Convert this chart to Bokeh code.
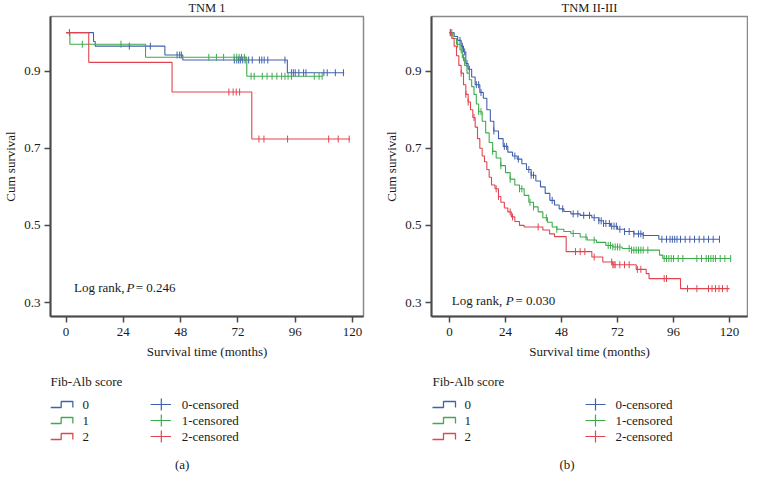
import numpy as np
from bokeh.plotting import figure
from bokeh.layouts import row, column
from bokeh.models import Range1d, FixedTicker, Label
from bokeh.embed import file_html
from bokeh.resources import INLINE
from bokeh.core.properties import value

FONT = "Liberation Serif"
TXT = "#1a1a1a"
BLUE, GREEN, RED = "#4160ae", "#3eab4c", "#e2454f"
COLORS = [BLUE, GREEN, RED]

# ---------------- data ----------------
x_ticks = [0, 24, 48, 72, 96, 120]
y_ticks = [0.3, 0.5, 0.7, 0.9]
groups = ["0", "1", "2"]

# Panel (a) TNM I : step times (months) and cumulative survival
a0_t = [0, 11.5, 12.2, 41.4, 48.9, 92.7, 116.5]
a0_s = [1.0, 0.977, 0.965, 0.942, 0.929, 0.896, 0.896]
a1_t = [0, 1.6, 33.3, 75.7, 107.3]
a1_s = [1.0, 0.970, 0.936, 0.887, 0.887]
a2_t = [0, 9.5, 44.4, 77.8, 118.9]
a2_s = [1.0, 0.923, 0.846, 0.724, 0.724]
a0_c = [1.4, 26.5, 35.3, 46.5, 47.6, 48.3, 70.5, 71.5, 72.3, 73, 74, 75, 76.5, 78,
        81, 82, 83, 84.5, 91.7, 94.4, 95.2, 96, 97.5, 99.5, 100.5, 108, 109.4, 112.8, 116.2]
a1_c = [6.8, 23, 59.8, 63, 66, 70.4, 71.5, 72.5, 73.5, 74.7, 77.5, 78.8, 82.2, 84.2,
        86.3, 88.3, 90.3, 91.7, 93, 94.4, 104, 106, 107.3]
a2_c = [68.2, 70, 71.3, 72.7, 80.8, 82.9, 92.8, 110, 114, 118.6]

# Panel (b) TNM II-III
b0_t = [0, 2, 3.5, 5, 6, 7, 8, 9.5, 11, 13, 14.5, 16, 17.5, 19, 21, 23, 25, 27, 29, 31,
        33, 35, 37, 39, 41, 43, 45, 47, 49, 52, 56, 61, 64, 66, 69, 72, 75, 79, 83, 89.7, 115.7]
b0_s = [1.0, 0.99, 0.98, 0.965, 0.95, 0.92, 0.905, 0.885, 0.865, 0.845, 0.83, 0.80, 0.77,
        0.745, 0.725, 0.705, 0.69, 0.68, 0.672, 0.66, 0.645, 0.63, 0.615, 0.60, 0.583,
        0.565, 0.553, 0.543, 0.536, 0.530, 0.526, 0.520, 0.512, 0.505, 0.498, 0.490,
        0.484, 0.478, 0.474, 0.464, 0.464]
b1_t = [0, 1.5, 3, 4.5, 5.5, 6.5, 7.5, 8.5, 9.5, 10.5, 11.5, 12.5, 14, 15.5, 17, 18.5, 20,
        22, 24, 26, 28, 30, 32, 34, 36, 38, 40, 42, 44, 46, 49, 52, 56, 59, 63, 67, 70,
        74, 78, 90, 91.4, 120.5]
b1_s = [1.0, 0.985, 0.97, 0.955, 0.935, 0.915, 0.895, 0.878, 0.86, 0.84, 0.815, 0.795,
        0.77, 0.74, 0.715, 0.692, 0.675, 0.655, 0.637, 0.62, 0.605, 0.595, 0.578, 0.56,
        0.548, 0.535, 0.52, 0.508, 0.496, 0.49, 0.484, 0.479, 0.47, 0.462, 0.456, 0.448,
        0.444, 0.440, 0.436, 0.423, 0.414, 0.414]
b2_t = [0, 1, 2, 3, 4, 5, 6, 7, 8, 9, 10, 11, 12, 13, 14, 15, 16, 17, 18, 19.5, 21, 22,
        23.5, 25, 26.5, 28, 30, 32, 40, 42.9, 45, 50, 61, 65.7, 70, 80, 84.3, 85.5, 99,
        120]
b2_s = [1.0, 0.985, 0.965, 0.94, 0.915, 0.895, 0.865, 0.84, 0.82, 0.80, 0.78, 0.755,
        0.725, 0.70, 0.68, 0.665, 0.645, 0.625, 0.605, 0.595, 0.575, 0.56, 0.545, 0.535,
        0.522, 0.51, 0.50, 0.496, 0.488, 0.478, 0.471, 0.432, 0.418, 0.405, 0.398, 0.386,
        0.375, 0.362, 0.336, 0.336]
b0_c = [0.5, 4.5, 5.5, 6.5, 7.5, 8.5, 11.5, 12.5, 13.5, 19, 23.5, 24.5, 28, 29.5, 34, 35,
        36, 44, 48.5, 53, 55, 57.5, 60, 62, 64, 65, 66, 67, 68.5, 69.5, 70.5, 71.5, 73,
        75, 77, 79, 81, 82, 83, 91, 93, 94.5, 95.5, 96.5, 97.5, 99, 101, 103, 105, 107,
        109, 111, 113, 115.7]
b1_c = [1, 3.5, 5, 6, 12.5, 13.5, 18.5, 22, 26, 30, 31, 34.5, 36, 41.5, 46, 53, 58.5, 62,
        68, 69, 70, 71, 72, 73, 77, 78, 79, 80, 81, 82, 83, 85, 92, 93, 94, 95, 96, 98,
        100, 106, 108, 110, 111, 112, 113, 114, 116, 118, 120.5]
b2_c = [0.3, 5, 7, 8, 10.5, 20, 21, 26, 27, 38, 54, 56, 58, 62, 69.5, 70, 70.5, 71, 73,
        75, 77, 80.5, 82, 92, 93, 102, 106, 111, 112.5, 114, 115.5, 117, 119]

PLOT_H = 369
LEG_H = 105
TOP_B, BOT_B = 15, 53
LEG_TOP = 370          # page y where the legend strip starts
FS = "13px"


def surv_at(times, surv, t):
    idx = np.searchsorted(np.asarray(times), np.asarray(t), side="right") - 1
    idx = np.clip(idx, 0, len(surv) - 1)
    return np.asarray(surv)[idx]


def km_panel(width, bl, br, xr, yr, curves, title, pval, ptxt_xy):
    p = figure(width=width, height=PLOT_H, output_backend="svg", toolbar_location=None,
               x_range=Range1d(*xr), y_range=Range1d(*yr), title=title,
               min_border_left=bl, min_border_right=br, min_border_top=TOP_B,
               min_border_bottom=BOT_B)
    p.title.align = "center"
    p.title.text_font = FONT
    p.title.text_font_size = "12.5px"
    p.title.text_font_style = "normal"
    p.title.text_color = TXT
    p.title.standoff = 0
    p.title.offset = 0
    p.title.text_line_height = 1.0
    p.title.vertical_align = "top"
    p.xgrid.visible = False
    p.ygrid.visible = False
    p.outline_line_color = "#8a8a8a"
    p.outline_line_width = 1.5
    for ax in (p.xaxis[0], p.yaxis[0]):
        ax.axis_line_color = "#4a4a4a"
        ax.axis_line_width = 2
        ax.major_tick_line_color = "#4a4a4a"
        ax.major_tick_line_width = 1.5
        ax.major_tick_in = 0
        ax.major_tick_out = 6
        ax.minor_tick_line_color = None
        ax.major_label_text_font = FONT
        ax.major_label_text_font_size = FS
        ax.major_label_text_color = TXT
        ax.axis_label_text_font = FONT
        ax.axis_label_text_font_size = FS
        ax.axis_label_text_font_style = "normal"
        ax.axis_label_text_color = TXT
    p.xaxis.ticker = FixedTicker(ticks=x_ticks)
    p.yaxis.ticker = FixedTicker(ticks=y_ticks)
    p.xaxis.axis_label = "Survival time (months)"
    p.yaxis.axis_label = "Cum survival"
    p.xaxis.major_label_standoff = 5
    p.xaxis.axis_label_standoff = 5
    p.yaxis.major_label_standoff = 4
    p.yaxis.axis_label_standoff = 3

    for (t, s, c), col in zip(curves, COLORS):
        p.step(x=t, y=s, mode="after", line_color=col, line_width=1.1)
        p.scatter(x=c, y=surv_at(t, s, c), marker="dash", angle=np.pi / 2, size=7,
                  line_color=col, line_width=1)

    (x1, x2, x3), yv = ptxt_xy
    for xx, txt, style in ((x1, "Log rank,", "normal"), (x2, "P", "italic"),
                           (x3, "= " + pval, "normal")):
        p.add_layout(Label(x=xx, y=yv, text=txt, text_align="left", text_baseline="middle",
                           text_font=FONT, text_font_size=FS, text_font_style=style,
                           text_color=TXT))
    return p


def legend_fig(width, bl, br, frame_x, title_x, icon_x, lab_x, cross_x, clab_x, cap_x, caption):
    # x in page pixels across the (column-aligned) frame, y in page pixels (inverted)
    q = figure(width=width, height=LEG_H, output_backend="svg", toolbar_location=None,
               x_range=Range1d(*frame_x), y_range=Range1d(LEG_TOP + LEG_H, LEG_TOP),
               x_axis_location=None, y_axis_location=None,
               min_border_left=bl, min_border_right=br, min_border_top=0, min_border_bottom=0)
    q.grid.visible = False
    q.outline_line_color = None
    q.text(x=[title_x], y=[382], text=["Fib-Alb score"], text_align="left",
           text_baseline="middle", text_font=value(FONT), text_font_size=FS,
           text_color=TXT)
    rows_y = [405, 421, 437]
    for g, col, py in zip(groups, COLORS, rows_y):
        a, b, c = icon_x
        q.line(x=[a, b, b, c, c], y=[py + 3, py + 3, py - 3, py - 3, py + 3], line_color=col,
               line_width=1.3)
        q.text(x=[lab_x], y=[py], text=[g], text_align="left", text_baseline="middle",
               text_font=value(FONT), text_font_size=FS, text_color=TXT)
        cx0, cxm, cx1 = cross_x
        q.segment(x0=[cx0, cxm], y0=[py, py - 6], x1=[cx1, cxm], y1=[py, py + 6],
                  line_color=col, line_width=1.2)
        q.text(x=[clab_x], y=[py], text=[g + "-censored"], text_align="left",
               text_baseline="middle", text_font=value(FONT), text_font_size=FS,
               text_color=TXT)
    q.text(x=[cap_x], y=[465], text=[caption], text_align="center",
           text_baseline="middle", text_font=value(FONT), text_font_size=FS,
           text_color=TXT)
    return q


# Left panel: frame page x 49..371, y 16..316
pa = km_panel(372, 41, 9, (-6.52, 124.6), (0.2637, 1.0419),
              [(a0_t, a0_s, a0_c), (a1_t, a1_s, a1_c), (a2_t, a2_s, a2_c)],
              "TNM 1", "0.246", ((3.3, 25.3, 29.2), 0.339))
# Right panel: frame page x 439..755
pb = km_panel(376, 59, 1, (-7.71, 127.7), (0.2637, 1.0419),
              [(b0_t, b0_s, b0_c), (b1_t, b1_s, b1_c), (b2_t, b2_s, b2_c)],
              "TNM II-III", "0.030", ((1.0, 24.1, 28.3), 0.305))

la = legend_fig(372, 41, 9, (49, 371), 49, (49, 60, 72), 82, (152, 163, 173), 184, 184.5, "(a)")
lb = legend_fig(376, 59, 1, (439, 755), 440, (440, 451, 463), 472, (593, 603, 613), 623,
                574.5, "(b)")

layout = row(column(pa, la), column(pb, lb))
open("out.html", "w").write(file_html(layout, INLINE))
